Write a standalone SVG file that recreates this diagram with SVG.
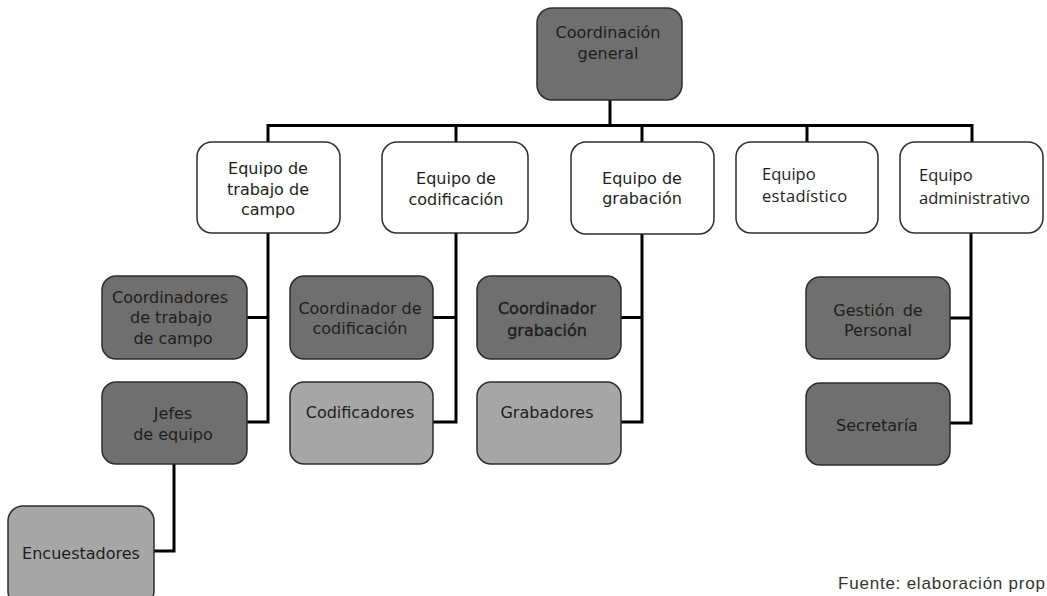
<svg xmlns="http://www.w3.org/2000/svg" width="1047" height="596" viewBox="0 0 1047 596">
<style>
.box{stroke:#2e2e2e;stroke-width:1.5}
.dark{fill:#6f6f6f}
.light{fill:#a6a6a6}
.white{fill:#ffffff}
.t{font-family:"DejaVu Sans",Verdana,sans-serif;font-size:16px;fill:#1e1e1e;text-anchor:middle}
.o{font-family:"Open Sans","DejaVu Sans",sans-serif;font-size:16.5px;fill:#1e1e1e}
.c{fill:none;stroke:#000;stroke-width:3;stroke-linejoin:miter}
.f{font-family:"Liberation Sans",Arial,sans-serif;font-size:17px;fill:#333}
</style>
<rect width="1047" height="596" fill="#fff"/>
<g id="connectors">
<path class="c" d="M610 100V125.5M268 142V125.5H972V142M456 125.5V142M642 125.5V142M807 125.5V142"/>
<path class="c" d="M268 233V422H247M247 317.5H268"/>
<path class="c" d="M456 233V422H433M433 317.5H456"/>
<path class="c" d="M642 234V422H621M621 317.5H642"/>
<path class="c" d="M971 233V423H950M950 318H971"/>
<path class="c" d="M174 464V551H154"/>
</g>
<g id="n-coordinacion-general"><rect class="box dark" x="537" y="8" width="145" height="92" rx="15"/>
<text class="t" x="608" y="38">Coordinación</text><text class="t" x="608" y="59">general</text></g>
<g id="n-campo"><rect class="box white" x="197" y="142" width="143" height="91" rx="15"/>
<text class="t" x="268" y="174">Equipo de</text><text class="t" x="268" y="195">trabajo de</text><text class="t" x="268" y="215">campo</text></g>
<g id="n-codificacion"><rect class="box white" x="382" y="142" width="146" height="91" rx="15"/>
<text class="t" x="456" y="184">Equipo de</text><text class="t" x="456" y="205">codificación</text></g>
<g id="n-grabacion"><rect class="box white" x="571" y="142" width="143" height="92" rx="15"/>
<text class="t" x="642" y="184">Equipo de</text><text class="t" x="642" y="204">grabación</text></g>
<g id="n-estadistico"><rect class="box white" x="736" y="142" width="142" height="91" rx="15"/>
<text class="o" x="762" y="180">Equipo</text><text class="o" x="762" y="202" letter-spacing="0.3">estadístico</text></g>
<g id="n-administrativo"><rect class="box white" x="900" y="142" width="143" height="91" rx="15"/>
<text class="o" x="919" y="181">Equipo</text><text class="o" x="919" y="204">administrativo</text></g>
<g id="n-coord-campo"><rect class="box dark" x="102" y="276" width="145" height="83" rx="14"/>
<text class="t" x="170" y="303">Coordinadores</text><text class="t" x="171" y="323">de trabajo</text><text class="t" x="173" y="344">de campo</text></g>
<g id="n-jefes"><rect class="box dark" x="102" y="382" width="145" height="82" rx="14"/>
<text class="t" x="173" y="419">Jefes</text><text class="t" x="173" y="440">de equipo</text></g>
<g id="n-encuestadores"><rect class="box light" x="8" y="506" width="146" height="100" rx="15"/>
<text class="t" x="81" y="559">Encuestadores</text></g>
<g id="n-coord-codificacion"><rect class="box dark" x="290" y="276" width="143" height="83" rx="14"/>
<text class="t" x="360" y="314">Coordinador de</text><text class="t" x="360" y="334">codificación</text></g>
<g id="n-codificadores"><rect class="box light" x="290" y="382" width="143" height="82" rx="14"/>
<text class="t" x="360" y="418">Codificadores</text></g>
<g id="n-coord-grabacion"><rect class="box dark" x="477" y="276" width="144" height="83" rx="14"/>
<text class="t" x="547" y="314" stroke="#1e1e1e" stroke-width="0.35">Coordinador</text><text class="t" x="547" y="336" stroke="#1e1e1e" stroke-width="0.35">grabación</text></g>
<g id="n-grabadores"><rect class="box light" x="477" y="382" width="144" height="82" rx="14"/>
<text class="t" x="547" y="418">Grabadores</text></g>
<g id="n-gestion"><rect class="box dark" x="806" y="277" width="144" height="82" rx="14"/>
<text class="t" x="878" y="316" word-spacing="3">Gestión de</text><text class="t" x="878" y="336">Personal</text></g>
<g id="n-secretaria"><rect class="box dark" x="806" y="383" width="144" height="82" rx="14"/>
<text class="t" x="877" y="431">Secretaría</text></g>
<text class="f" x="838" y="589" textLength="207" lengthAdjust="spacing">Fuente: elaboración prop</text>
</svg>
